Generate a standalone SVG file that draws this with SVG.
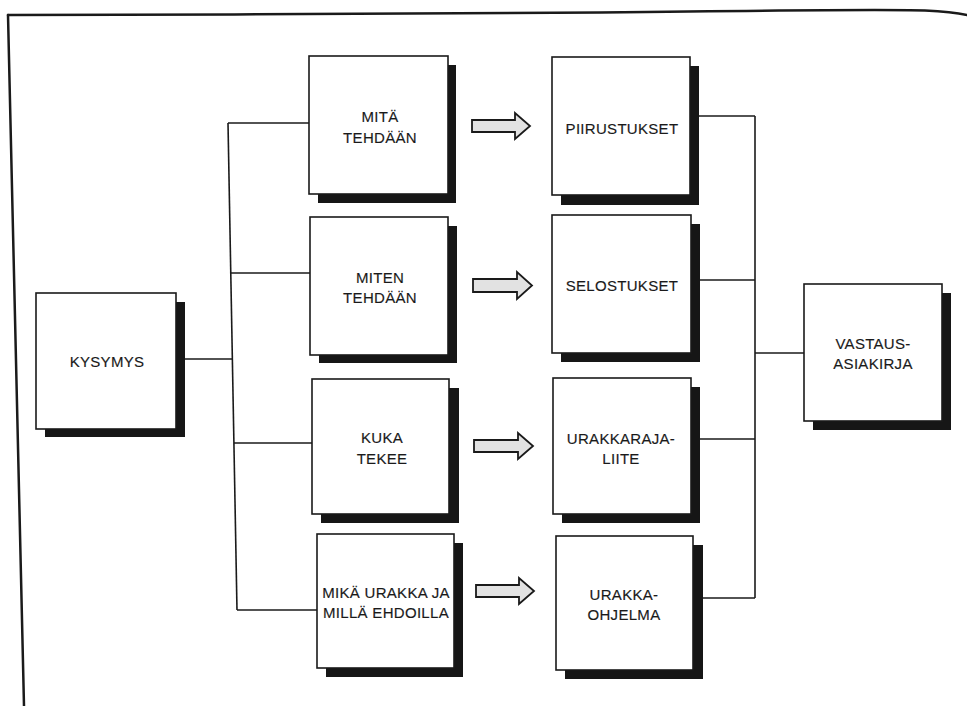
<svg xmlns="http://www.w3.org/2000/svg" width="967" height="706" viewBox="0 0 967 706">
<style>
.frame{fill:none;stroke:#1a1a1a;stroke-width:2.5;stroke-linecap:round}
.conn{fill:none;stroke:#1a1a1a;stroke-width:1.6}
.shadow{fill:#161616}
.box{fill:#fff;stroke:#1a1a1a;stroke-width:1.6}
.arrow{fill:#e2e2e2;stroke:#1a1a1a;stroke-width:1.8;stroke-linejoin:miter}
.lbl{font-family:"Liberation Sans",Arial,Helvetica,sans-serif;font-size:15px;fill:#1a1a1a;text-anchor:middle;letter-spacing:0.3px;stroke:#1a1a1a;stroke-width:0.15}
</style>
<rect x="0" y="0" width="967" height="706" fill="#fff"/>
<g id="frame">
<path class="frame" d="M8,15 C200,14.5 480,14 600,12.5 C760,10.5 880,9.5 925,10.5 C948,11.5 958,13 967,15"/>
<path class="frame" d="M8,15 L24,706"/>
</g>
<g id="connectors">
<path class="conn" d="M228,123 L237,610"/>
<path class="conn" d="M185,359 H232.4"/>
<path class="conn" d="M228,123 H309"/>
<path class="conn" d="M230.8,273 H310"/>
<path class="conn" d="M233.9,443 H312"/>
<path class="conn" d="M237,610 H317"/>
<path class="conn" d="M755,116 V598"/>
<path class="conn" d="M690,116 H755"/>
<path class="conn" d="M691,280 H755"/>
<path class="conn" d="M691,439 H755"/>
<path class="conn" d="M693,598 H755"/>
<path class="conn" d="M755,353 H804"/>
<path class="arrow" d="M472,120 H515 V113 L530,126 L515,139 V132 H472 Z"/>
<path class="arrow" d="M473,279 H517 V272 L532,285.5 L517,299 V292 H473 Z"/>
<path class="arrow" d="M474,440 H518 V433 L533,446 L518,459 V452 H474 Z"/>
<path class="arrow" d="M476,585 H519 V578 L534,591 L519,604 V597 H476 Z"/>
</g>
<g id="kysymys">
<rect class="shadow" x="45" y="302" width="140" height="135"/>
<rect class="box" x="36" y="293" width="140" height="136"/>
<text class="lbl" x="107" y="367">KYSYMYS</text>
</g>
<g id="mita-tehdaan">
<rect class="shadow" x="318" y="65" width="138" height="138"/>
<rect class="box" x="309" y="56" width="139" height="138"/>
<text class="lbl" x="380" y="122">MITÄ</text>
<text class="lbl" x="380" y="143">TEHDÄÄN</text>
</g>
<g id="miten-tehdaan">
<rect class="shadow" x="319" y="226" width="138" height="137"/>
<rect class="box" x="310" y="217" width="138" height="138"/>
<text class="lbl" x="380" y="283">MITEN</text>
<text class="lbl" x="380" y="303">TEHDÄÄN</text>
</g>
<g id="kuka-tekee">
<rect class="shadow" x="321" y="388" width="138" height="135"/>
<rect class="box" x="312" y="379" width="137" height="135"/>
<text class="lbl" x="382" y="443">KUKA</text>
<text class="lbl" x="382" y="464">TEKEE</text>
</g>
<g id="mika-urakka">
<rect class="shadow" x="326" y="543" width="137" height="134"/>
<rect class="box" x="317" y="534" width="137" height="134"/>
<text class="lbl" x="386" y="598">MIKÄ URAKKA JA</text>
<text class="lbl" x="386" y="618">MILLÄ EHDOILLA</text>
</g>
<g id="piirustukset">
<rect class="shadow" x="561" y="66" width="138" height="139"/>
<rect class="box" x="552" y="57" width="138" height="138"/>
<text class="lbl" x="622" y="134">PIIRUSTUKSET</text>
</g>
<g id="selostukset">
<rect class="shadow" x="561" y="224" width="139" height="138"/>
<rect class="box" x="552" y="215" width="139" height="138"/>
<text class="lbl" x="622" y="291">SELOSTUKSET</text>
</g>
<g id="urakkarajaliite">
<rect class="shadow" x="562" y="387" width="138" height="136"/>
<rect class="box" x="553" y="378" width="138" height="136"/>
<text class="lbl" x="621" y="444">URAKKARAJA-</text>
<text class="lbl" x="621" y="464">LIITE</text>
</g>
<g id="urakkaohjelma">
<rect class="shadow" x="565" y="545" width="138" height="134"/>
<rect class="box" x="556" y="536" width="137" height="134"/>
<text class="lbl" x="624" y="600">URAKKA-</text>
<text class="lbl" x="624" y="620">OHJELMA</text>
</g>
<g id="vastausasiakirja">
<rect class="shadow" x="813" y="293" width="138" height="137"/>
<rect class="box" x="804" y="284" width="138" height="137"/>
<text class="lbl" x="873" y="349">VASTAUS-</text>
<text class="lbl" x="873" y="369">ASIAKIRJA</text>
</g>
</svg>
